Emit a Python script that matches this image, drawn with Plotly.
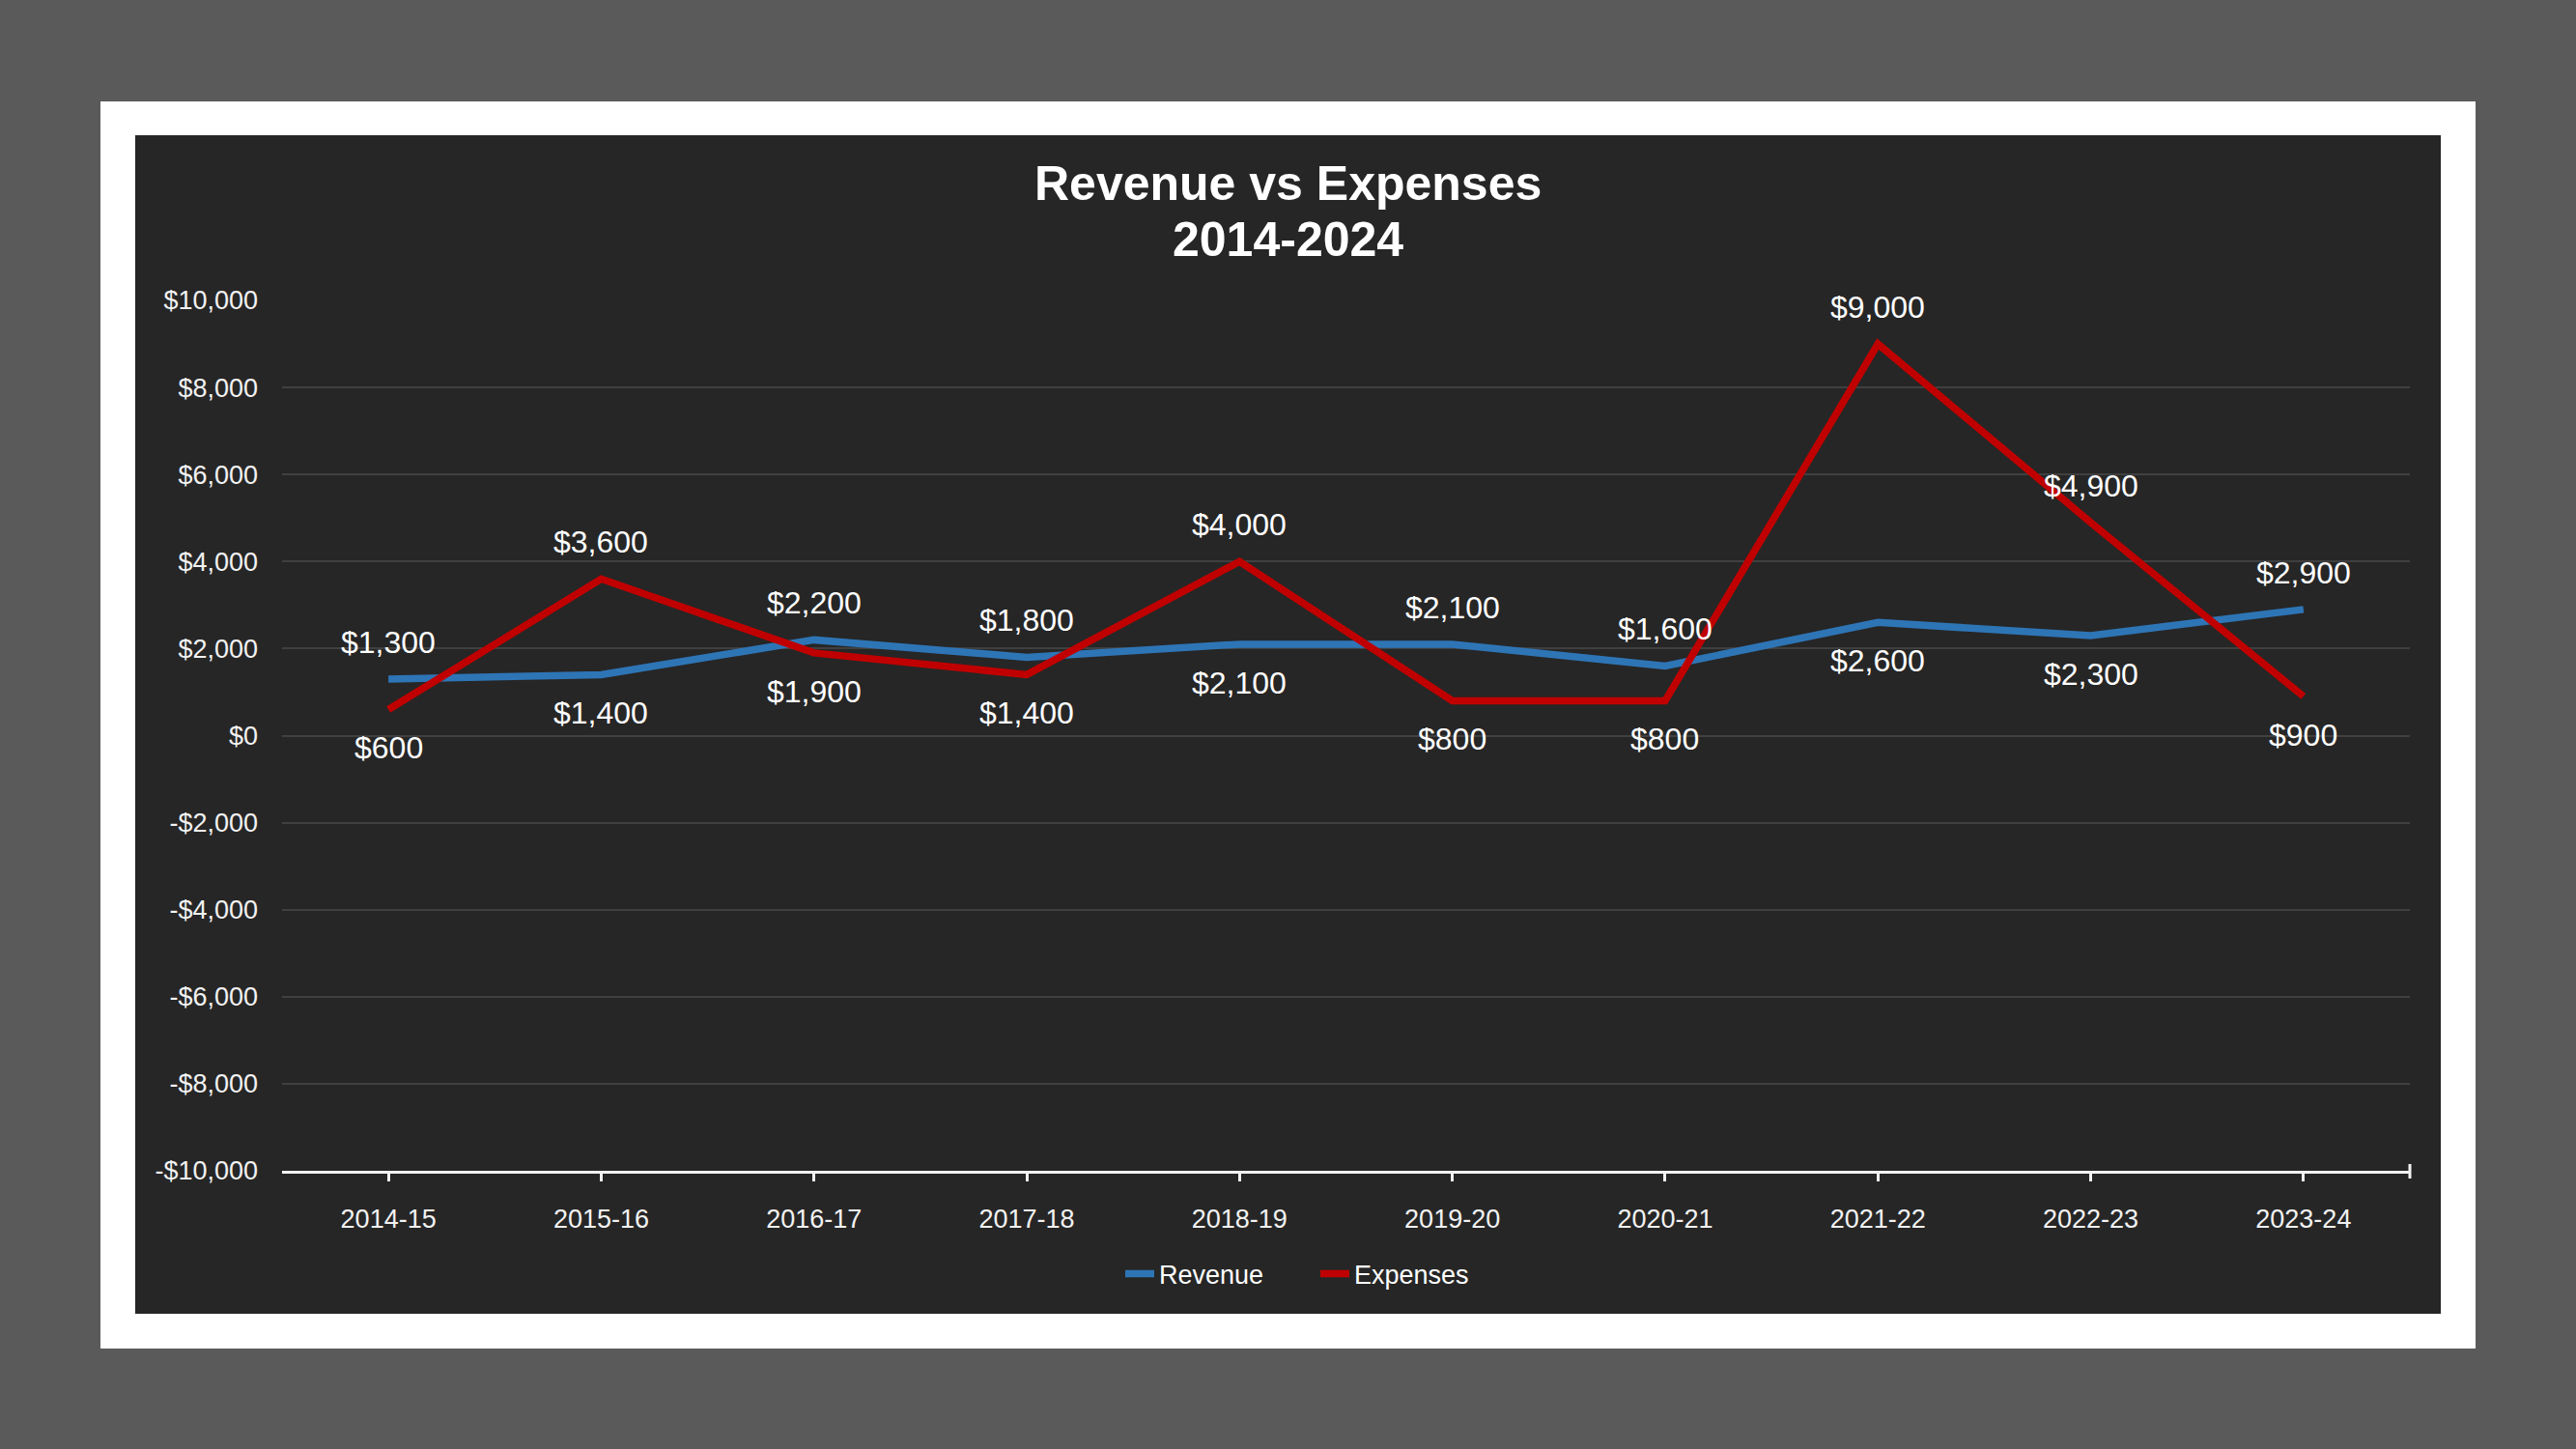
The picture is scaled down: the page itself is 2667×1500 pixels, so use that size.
import plotly.graph_objects as go

# ---------------- data ----------------
categories = ["2014-15", "2015-16", "2016-17", "2017-18", "2018-19",
              "2019-20", "2020-21", "2021-22", "2022-23", "2023-24"]
revenue = [1300, 1400, 2200, 1800, 2100, 2100, 1600, 2600, 2300, 2900]
expenses = [600, 3600, 1900, 1400, 4000, 800, 800, 9000, 4900, 900]
y_tick_values = [10000, 8000, 6000, 4000, 2000, 0, -2000, -4000, -6000, -8000, -10000]
title_lines = ["Revenue vs Expenses", "2014-2024"]


def money(v):
    return ("-" if v < 0 else "") + "${:,.0f}".format(abs(v))


y_tick_text = [money(v) for v in y_tick_values]

# ---------------- style ----------------
W, H = 2667, 1500
PL, PR, PT, PB = 292, 2495, 311, 1212  # plot area pixel box
FONT = "Liberation Sans, Arial, sans-serif"
BLUE = "#2E75B6"
RED = "#C00000"
TXT = "#FFFFFF"


def px_x(px):
    return (px - PL) / (PR - PL)


def px_y(py):
    return (PB - py) / (PB - PT)


fig = go.Figure()
fig.add_trace(go.Scatter(x=categories, y=revenue, name="Revenue", mode="lines",
                         line=dict(color=BLUE, width=7.5)))
fig.add_trace(go.Scatter(x=categories, y=expenses, name="Expenses", mode="lines",
                         line=dict(color=RED, width=7.5)))

annotations = []
for c, r, e in zip(categories, revenue, expenses):
    for v, other in ((r, e), (e, r)):
        above = v >= other
        annotations.append(dict(
            x=c, y=v, xref="x", yref="y", text=money(v), showarrow=False,
            yanchor="middle", xanchor="center", yshift=38 if above else -40,
            font=dict(family=FONT, size=32, color=TXT)))

cx = px_x(1333.5)
annotations.append(dict(x=cx, y=px_y(190), xref="paper", yref="paper",
                        text="<b>" + title_lines[0] + "</b>", showarrow=False,
                        xanchor="center", yanchor="middle",
                        font=dict(family=FONT, size=50, color=TXT)))
annotations.append(dict(x=cx, y=px_y(248), xref="paper", yref="paper",
                        text="<b>" + title_lines[1] + "</b>", showarrow=False,
                        xanchor="center", yanchor="middle",
                        font=dict(family=FONT, size=50, color=TXT)))

shapes = [
    dict(type="rect", xref="paper", yref="paper", layer="below",
         x0=px_x(104), x1=px_x(2563), y0=px_y(1396), y1=px_y(105),
         fillcolor="#FFFFFF", line=dict(width=0)),
    dict(type="rect", xref="paper", yref="paper", layer="below",
         x0=px_x(140), x1=px_x(2527), y0=px_y(1360), y1=px_y(140),
         fillcolor="#262626", line=dict(width=0)),
    # end tick at the right of the category axis
    dict(type="line", xref="paper", yref="paper", layer="above",
         x0=1, x1=1, y0=px_y(1220), y1=px_y(1205),
         line=dict(color="#F2F2F2", width=3)),
]

fig.update_layout(
    width=W, height=H,
    margin=dict(l=PL, r=W - PR, t=PT, b=H - PB, pad=0),
    paper_bgcolor="#5A5A5A",
    plot_bgcolor="rgba(0,0,0,0)",
    font=dict(family=FONT, size=27, color=TXT),
    showlegend=True,
    legend=dict(orientation="h", x=px_x(1362), xanchor="center", y=px_y(1319), yanchor="middle",
                font=dict(family=FONT, size=27, color=TXT), bgcolor="rgba(0,0,0,0)",
                itemwidth=30, entrywidth=157, tracegroupgap=0),
    annotations=annotations,
    shapes=shapes,
    xaxis=dict(type="category", showgrid=False, zeroline=False,
               showline=True, linecolor="#F2F2F2", linewidth=3,
               ticks="outside", ticklen=8, tickwidth=3, tickcolor="#F2F2F2",
               tickfont=dict(family=FONT, size=27, color="#F2F2F2"),
               ticklabelstandoff=16, range=[-0.5, 9.5]),
    yaxis=dict(range=[-10000, 10000], tickvals=y_tick_values, ticktext=y_tick_text,
               showgrid=True, gridcolor="#404040", gridwidth=2, zeroline=False,
               showline=False, ticks="",
               tickfont=dict(family=FONT, size=27, color="#F2F2F2"),
               ticklabelstandoff=24),
)

fig.write_html("out.html")
